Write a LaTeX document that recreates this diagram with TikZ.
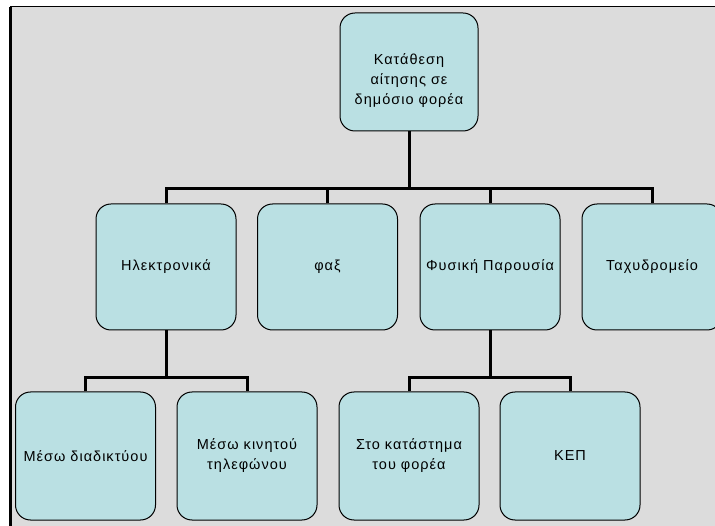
\documentclass[tikz,border=0pt]{standalone}
\usepackage{fontspec}
\setmainfont{Liberation Sans}[LetterSpace=7]
\begin{document}
\definecolor{panelgray}{HTML}{DCDCDC}
\definecolor{boxfill}{HTML}{BAE0E3}
\begin{tikzpicture}[x=1pt,y=-1pt,
  box/.style={draw=black, line width=1pt, fill=boxfill, rounded corners=15pt,
    align=center, inner sep=0pt, font=\fontsize{14.5}{20}\selectfont},
  link/.style={draw=black, line width=3pt}]
  \useasboundingbox (0,0) rectangle (715,526);
  % panel behind the chart
  \fill[panelgray] (10,7) rectangle (715,526);
  \draw[line width=1pt] (10,7) -- (715,7);
  \draw[line width=3pt] (10,7) -- (10,526);

  % coordinates of the connector bars
  \coordinate (barA) at (0,189);
  \coordinate (barB) at (0,378);

  % top level
  \node[box, minimum width=138pt, minimum height=118pt] (root) at (409,72)
    {\raisebox{-12pt}[0pt][0pt]{\begin{tabular}{@{}c@{}}Κατάθεση\\αίτησης σε\\δημόσιο φορέα\end{tabular}}};

  % second level
  \begin{scope}[every node/.append style={minimum width=140pt, minimum height=126pt}]
    \node[box] (elec) at (166,267) {Ηλεκτρονικά};
    \node[box] (fax)  at (327.5,267) {φαξ};
    \node[box] (phys) at (490,267) {Φυσική Παρουσία};
    \node[box] (post) at (652,267) {Ταχυδρομείο};
  \end{scope}

  % third level
  \begin{scope}[every node/.append style={minimum width=140pt, minimum height=128pt}]
    \node[box] (web)   at (85.5,456) {Μέσω διαδικτύου};
    \node[box] (mob)   at (247,456)  {Μέσω κινητού\\τηλεφώνου};
    \node[box] (store) at (409,456)  {Στο κατάστημα\\του φορέα};
    \node[box] (kep)   at (570,456)  {ΚΕΠ};
  \end{scope}

  % connectors: root to second level
  \draw[link] (root.south) -- (root.south |- barA);
  \draw[link] (elec.north) -- (elec.north |- barA) -- (post.north |- barA) -- (post.north);
  \draw[link] (fax.north) -- (fax.north |- barA);
  \draw[link] (phys.north) -- (phys.north |- barA);

  % connectors: second level to third level
  \draw[link] (elec.south) -- (elec.south |- barB);
  \draw[link] (web.north) -- (web.north |- barB) -- (mob.north |- barB) -- (mob.north);
  \draw[link] (phys.south) -- (phys.south |- barB);
  \draw[link] (store.north) -- (store.north |- barB) -- (kep.north |- barB) -- (kep.north);
\end{tikzpicture}
\end{document}
